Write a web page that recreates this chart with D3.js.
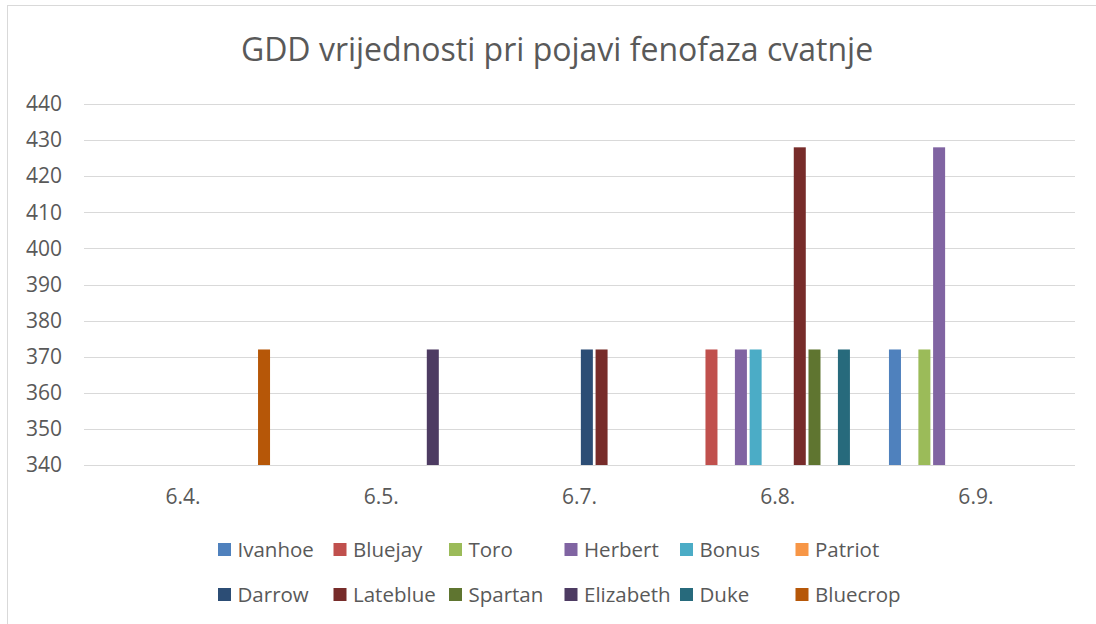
<!DOCTYPE html>
<html>
<head>
<meta charset="utf-8">
<title>GDD vrijednosti</title>
<script src="https://cdn.jsdelivr.net/npm/d3@7"></script>
<style>
  body { margin: 0; background: #fff; }
  text { font-family: "Open Sans", "Noto Sans", sans-serif; fill: #595959; }
</style>
</head>
<body>
<svg id="chart" width="1096" height="624"></svg>
<script>
// categories (dates) and series (cultivars)
var categories = ['6.4.', '6.5.', '6.7.', '6.8.', '6.9.'];
var seriesNames = ['Ivanhoe', 'Bluejay', 'Toro', 'Herbert', 'Bonus', 'Patriot',
                   'Darrow', 'Lateblue', 'Spartan', 'Elizabeth', 'Duke', 'Bluecrop'];
var seriesColors = ['#4F81BD', '#C0504D', '#9BBB59', '#8064A2', '#4BACC6', '#F79646',
                    '#2C4D75', '#772C2A', '#5F7530', '#4D3B62', '#276A7C', '#B65708'];

// one value per category, null = no bar
var ivanhoe   = [null, null, null, null, 372];
var bluejay   = [null, null, null, 372, null];
var toro      = [null, null, null, null, 372];
var herbert   = [null, null, null, 372, 428];
var bonus     = [null, null, null, 372, null];
var patriot   = [null, null, null, null, null];
var darrow    = [null, null, 372, null, null];
var lateblue  = [null, null, 372, 428, null];
var spartan   = [null, null, null, 372, null];
var elizabeth = [null, 372, null, null, null];
var duke      = [null, null, null, 372, null];
var bluecrop  = [372, null, null, null, null];

var yTicks = [340, 350, 360, 370, 380, 390, 400, 410, 420, 430, 440];

var seriesValues = [ivanhoe, bluejay, toro, herbert, bonus, patriot,
                    darrow, lateblue, spartan, elizabeth, duke, bluecrop];

var svg = d3.select('#chart');

// chart frame
svg.append('rect')
    .attr('x', 7.5).attr('y', 5.5)
    .attr('width', 1200).attr('height', 700)
    .attr('fill', 'none').attr('stroke', '#D9D9D9');

var x0 = d3.scaleBand().domain(categories).range([84, 1075])
    .paddingInner(0.109).paddingOuter(0.0545);
var x1 = d3.scaleBand().domain(seriesNames).range([0, x0.bandwidth()])
    .paddingInner(0.184).paddingOuter(0.092);
var y = d3.scaleLinear().domain([340, 440]).range([465, 104]);

// title
svg.append('text')
    .attr('x', 557).attr('y', 61)
    .attr('text-anchor', 'middle')
    .style('font-size', '32px')
    .text('GDD vrijednosti pri pojavi fenofaza cvatnje');

// gridlines
svg.append('g').selectAll('line').data(yTicks).join('line')
    .attr('x1', 84).attr('x2', 1075)
    .attr('y1', function(d) { return Math.round(y(d)) + 0.5; })
    .attr('y2', function(d) { return Math.round(y(d)) + 0.5; })
    .attr('stroke', '#D9D9D9').attr('stroke-width', 1);

// y axis labels
var yAxis = d3.axisLeft(y).tickValues(yTicks).tickSize(0).tickPadding(0);
svg.append('g').attr('transform', 'translate(62,0)').call(yAxis)
    .call(function(g) { g.select('.domain').remove(); })
    .selectAll('text').style('font-size', '21px').attr('fill', '#595959');

// x axis labels
var xAxis = d3.axisBottom(x0).tickSize(0).tickPadding(0);
svg.append('g').attr('transform', 'translate(0,489)').call(xAxis)
    .call(function(g) { g.select('.domain').remove(); })
    .selectAll('text').style('font-size', '21px').attr('fill', '#595959');

// bars
var groups = svg.append('g').selectAll('g').data(categories).join('g')
    .attr('transform', function(d) { return 'translate(' + x0(d) + ',0)'; });

groups.selectAll('rect')
    .data(function(c, ci) {
      return seriesNames.map(function(s, si) {
        return { name: s, value: seriesValues[si][ci], color: seriesColors[si] };
      }).filter(function(d) { return d.value != null; });
    })
    .join('rect')
    .attr('x', function(d) { return x1(d.name); })
    .attr('width', x1.bandwidth())
    .attr('y', function(d) { return y(d.value); })
    .attr('height', function(d) { return y(340) - y(d.value); })
    .attr('fill', function(d) { return d.color; });

// legend, 6 columns x 2 rows
var legend = svg.append('g').selectAll('g').data(seriesNames).join('g')
    .attr('transform', function(d, i) {
      return 'translate(' + (218 + (i % 6) * 115.5) + ',' + (543 + Math.floor(i / 6) * 45) + ')';
    });
legend.append('rect')
    .attr('width', 13).attr('height', 13)
    .attr('fill', function(d, i) { return seriesColors[i]; });
legend.append('text')
    .attr('x', 19.5).attr('y', 14)
    .style('font-size', '20.5px')
    .text(function(d) { return d; });
</script>
</body>
</html>
